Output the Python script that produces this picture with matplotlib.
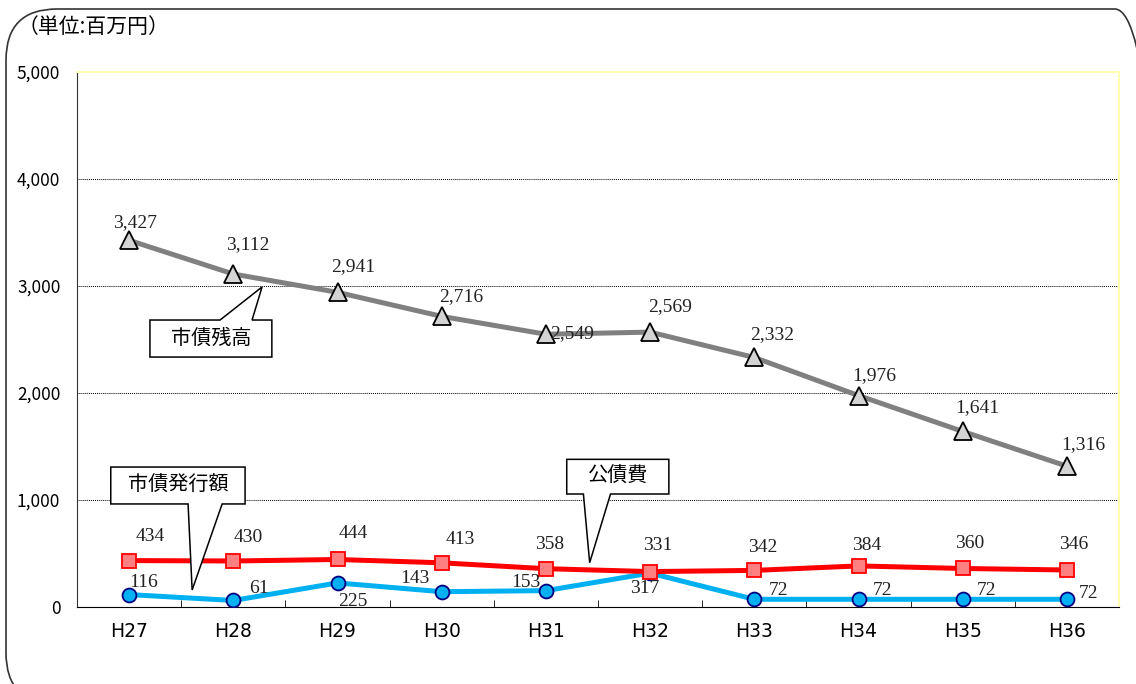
import matplotlib
matplotlib.use("Agg")
import matplotlib.pyplot as plt
from matplotlib.patches import FancyBboxPatch, Polygon
import numpy as np

plt.rcParams['font.family'] = ['Noto Sans CJK JP', 'DejaVu Sans']

# data
years = ['H27', 'H28', 'H29', 'H30', 'H31', 'H32', 'H33', 'H34', 'H35', 'H36']
zandaka = [3427, 3112, 2941, 2716, 2549, 2569, 2332, 1976, 1641, 1316]   # 市債残高
kosaihi = [434, 430, 444, 413, 358, 331, 342, 384, 360, 346]             # 公債費
hakko = [116, 61, 225, 143, 153, 317, 72, 72, 72, 72]                    # 市債発行額

# label offsets in pixels (dx, dy)
off_gray = [(6, 18), (15, 29), (16, 26), (19, 20), (26, 1), (20, 26), (18, 23), (16, 20), (15, 24), (16, 22)]
off_red = [(21, 24), (15, 23), (16, 26), (19, 23), (4, 24), (8, 26), (8, 23), (8, 20), (7, 25), (7, 25)]
off_blue = [(14, 12), (26, 12), (15, -19), (-27, 13), (-20, 8), (-5, -15), (24, 9), (24, 9), (24, 9), (22, 6)]

fig = plt.figure(figsize=(11.36, 6.84), dpi=100, facecolor='w')
ax = fig.add_axes([77/1136, 77/684, (1119-77)/1136, (607-72)/684])

x = np.arange(len(years))
ax.plot(x, zandaka, color='#808080', lw=3.6, marker='^', ms=13, mfc='#d4d4d4', mec='k', mew=1.3, zorder=4)
ax.plot(x, kosaihi, color='#ff0000', lw=3.6, marker='s', ms=9.5, mfc='#ff8080', mec='#ff0000', mew=1.3, zorder=4)
ax.plot(x, hakko, color='#00b0f0', lw=3.6, marker='o', ms=10, mfc='#00b0f0', mec='#000080', mew=1.3, zorder=3)

lab_font = dict(family='Liberation Serif', fontsize=14, color='#222222')
for xs, ys, offs in [(x, zandaka, off_gray), (x, kosaihi, off_red), (x, hakko, off_blue)]:
    for xi, yi, (dx, dy) in zip(xs, ys, offs):
        ax.annotate(f'{yi:,}', (xi, yi), xytext=(dx, dy), textcoords='offset pixels',
                    ha='center', va='center', zorder=6, **lab_font)

ax.set_xlim(-0.5, 9.5)
ax.set_ylim(0, 5000)
ax.set_yticks(range(0, 5001, 1000))
ax.set_yticklabels([f'{v:,}' for v in range(0, 5001, 1000)], fontsize=12.5)
ax.set_xticks(x)
ax.set_xticklabels(years, fontsize=13.5, family='DejaVu Sans')
ax.set_xticks(np.arange(0.5, 9.5, 1), minor=True)
ax.tick_params(axis='x', which='major', length=0, pad=11)
ax.tick_params(axis='x', which='minor', length=5, direction='in', color='k')
ax.tick_params(axis='y', length=0, pad=12)
ax.grid(axis='y', color='k', ls=(0, (1, 1)), lw=0.7)
ax.set_axisbelow(True)
for s in ['top', 'right']:
    ax.spines[s].set_color('#ffffb0')
    ax.spines[s].set_linewidth(1.5)
ax.spines['left'].set_color('#333333')
ax.spines['bottom'].set_color('k')

# callouts: box corners, tail base x and tip, in data units
callouts = [
    ('市債残高', (0.20, 2336, 1.37, 2682), (0.873, 1.180), (1.276, 2991)),
    ('市債発行額', (-0.176, 963, 1.113, 1308), (0.566, 0.893), (0.605, 159)),
    ('公債費', (4.20, 1056, 5.18, 1380), (4.36, 4.62), (4.42, 414)),
]
for txt, (x0, y0, x1, y1), (b0, b1), (tx, ty) in callouts:
    if ty > y1:
        pts = [(x0, y0), (x1, y0), (x1, y1), (b1, y1), (tx, ty), (b0, y1), (x0, y1)]
    else:
        pts = [(x0, y0), (b0, y0), (tx, ty), (b1, y0), (x1, y0), (x1, y1), (x0, y1)]
    ax.add_patch(Polygon(pts, closed=True, fc='w', ec='k', lw=1.1, zorder=7))
    ax.text((x0 + x1) / 2, (y0 + y1) / 2, txt, ha='center', va='center', fontsize=14.5, zorder=8)

fig.text(18/1136, 1 - 27/684, '（単位:百万円）', fontsize=15, va='center', ha='left')

border = FancyBboxPatch((6/1136, -20/684), 1160/1136, (684 - 9 + 20)/684,
                        boxstyle='round,pad=0,rounding_size=0.045', transform=fig.transFigure,
                        fc='none', ec='#333333', lw=1.2, mutation_aspect=1136/684)
fig.patches.append(border)

plt.savefig('out.png', dpi=100, facecolor='w')
